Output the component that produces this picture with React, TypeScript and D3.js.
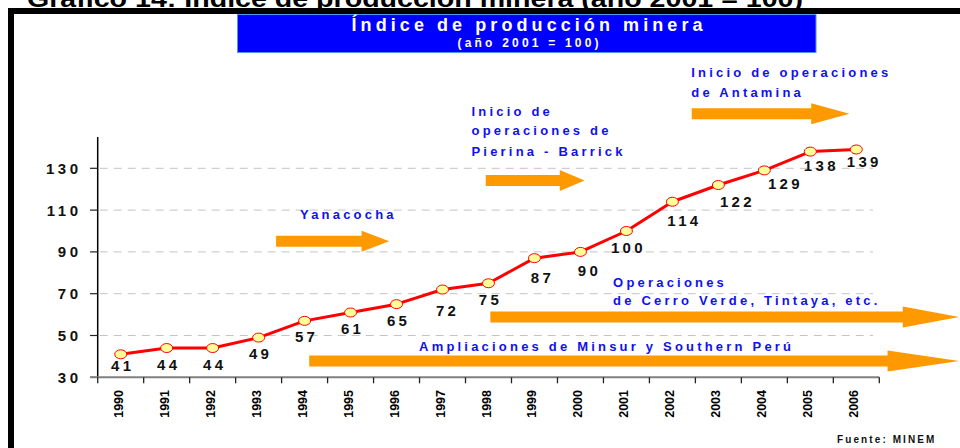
import * as d3 from "d3";

// data
const years = [1990, 1991, 1992, 1993, 1994, 1995, 1996, 1997, 1998, 1999, 2000, 2001, 2002, 2003, 2004, 2005, 2006];
const values = [41, 44, 44, 49, 57, 61, 65, 72, 75, 87, 90, 100, 114, 122, 129, 138, 139];
const yTicks = [30, 50, 70, 90, 110, 130];
const gridTicks = [50, 70, 90, 110, 130];

// annotation arrows, in (fractional year, index value)
const arrows = [
  { from: 1993.38, head: 1995.24, to: 1995.84, at: 95.1 },
  { from: 1997.94, head: 1999.55, to: 2000.09, at: 124.2 },
  { from: 2002.42, head: 2005.02, to: 2005.85, at: 156.1 },
  { from: 1998.04, head: 2007.01, to: 2008.24, at: 58.85 },
  { from: 1994.1, head: 2006.68, to: 2008.24, at: 37.8 },
];

// annotation text lines, anchored at (fractional year, index value)
const notes = [
  { text: "Yanacocha", year: 1993.9, at: 105.7 },
  { text: "Inicio de", year: 1997.63, at: 155.2 },
  { text: "operaciones de", year: 1997.63, at: 145.7 },
  { text: "Pierina - Barrick", year: 1997.63, at: 135.9 },
  { text: "Inicio de operaciones", year: 2002.41, at: 173.8 },
  { text: "de Antamina", year: 2002.41, at: 164.3 },
  { text: "Operaciones", year: 2000.71, at: 73.1 },
  { text: "de Cerro Verde, Tintaya, etc.", year: 2000.71, at: 64.6 },
  { text: "Ampliaciones de Minsur y Southern Perú", year: 1996.49, at: 42.6 },
];

// value labels sit under the points, a few are pushed aside
const labelNudge: Record<number, [number, number]> = {
  1990: [2, 17],
  1997: [5, 26],
  1999: [8, 25],
  2000: [9, 24],
  2002: [12, 24],
  2003: [19, 22],
  2004: [21, 19],
  2005: [11, 19],
  2006: [8, 17.5],
};

export default function App() {
  const width = 960;
  const height = 448;
  const left = 97.7;
  const right = 879.3;
  const top = 137;
  const bottom = 377.3;

  const x = d3.scaleBand<number>().domain(years).range([left, right]).padding(0);
  const xYear = d3.scaleLinear().domain([1989.5, 2006.5]).range([left, right]);
  const y = d3.scaleLinear().domain([30, 130]).range([bottom, 168.3]);

  const pts = years.map((yr, i) => ({ yr, v: values[i], px: x(yr)! + x.bandwidth() / 2, py: y(values[i]) }));

  const line = d3
    .line<{ px: number; py: number }>()
    .x((d) => d.px)
    .y((d) => d.py);

  const font = "Liberation Sans, Arial, Helvetica, sans-serif";
  const blue = "#1010f0";
  const orange = "#ff9900";

  const arrowPath = (a: typeof arrows[0]) => {
    const x0 = xYear(a.from);
    const xh = xYear(a.head);
    const x1 = xYear(a.to);
    const c = y(a.at);
    const bh = 5.5;
    const hh = 10.5;
    return `M${x0},${c - bh}L${xh},${c - bh}L${xh},${c - hh}L${x1},${c}L${xh},${c + hh}L${xh},${c + bh}L${x0},${c + bh}Z`;
  };

  return (
    <svg
      width={width}
      height={height}
      style={{ position: "absolute", left: 0, top: 0, background: "#fff" }}
      fontFamily={font}
    >
      {/* page heading, mostly cut off by the frame */}
      <text x={27} y={7} fontSize={23} fontWeight="bold" fill="#000" textLength={776} lengthAdjust="spacingAndGlyphs">
        Gráfico 14: Índice de producción minera (año 2001 = 100)
      </text>

      {/* frame */}
      <rect x={8} y={8} width={width - 8} height={6} fill="#000" />
      <rect x={8} y={8} width={6} height={height - 8} fill="#000" />

      {/* title box */}
      <rect x={237.5} y={14.5} width={578.5} height={38} fill="#0000ff" stroke="#4d94ff" strokeWidth={1} />
      <text x={527} y={31} textAnchor="middle" fontSize={18} fontWeight="bold" fill="#fff" textLength={351} lengthAdjust="spacing">
        Índice de producción minera
      </text>
      <text x={528} y={46.5} textAnchor="middle" fontSize={12} fontWeight="bold" fill="#fff" textLength={141} lengthAdjust="spacing">
        (año 2001 = 100)
      </text>

      {/* grid */}
      {gridTicks.map((t) => (
        <line key={t} x1={left + 2} x2={873} y1={y(t)} y2={y(t)} stroke="#c4c4c4" strokeWidth={1} strokeDasharray="8 6" />
      ))}

      {/* arrows */}
      {arrows.map((a, i) => (
        <path key={i} d={arrowPath(a)} fill={orange} />
      ))}

      {/* y axis */}
      <line x1={left} x2={left} y1={top} y2={bottom} stroke="#000" strokeWidth={1.5} />
      {yTicks.map((t) => (
        <g key={t}>
          <line x1={90} x2={left} y1={y(t)} y2={y(t)} stroke="#222" strokeWidth={1.2} />
          <text x={81.5} y={y(t) + 5.5} textAnchor="end" fontSize={15} fontWeight="bold" letterSpacing={3.5} fill="#111">
            {t}
          </text>
        </g>
      ))}

      {/* x axis */}
      <line x1={90} x2={right} y1={bottom} y2={bottom} stroke="#808080" strokeWidth={2} />
      {[...years.map((yr) => x(yr)!), right].map((tx, i) => (
        <line key={i} x1={tx} x2={tx} y1={bottom} y2={bottom + 6} stroke="#222" strokeWidth={1.3} />
      ))}
      {years.map((yr) => {
        const cx = x(yr)! + x.bandwidth() / 2;
        return (
          <text
            key={yr}
            transform={`translate(${cx + 2},390) rotate(-90)`}
            textAnchor="end"
            fontSize={12.5}
            fontWeight="bold"
            fill="#000"
          >
            {yr}
          </text>
        );
      })}

      {/* series */}
      <path d={line(pts)!} fill="none" stroke="#ff0000" strokeWidth={3} strokeLinejoin="round" />
      {pts.map((d) => (
        <ellipse key={d.yr} cx={d.px} cy={d.py} rx={6} ry={4.5} fill="#ffff99" stroke="#ff0000" strokeWidth={1} />
      ))}
      {pts.map((d) => {
        const [dx, dy] = labelNudge[d.yr] ?? [2, 21.5];
        return (
          <text
            key={d.yr}
            x={d.px + dx}
            y={d.py + dy}
            textAnchor="middle"
            fontSize={15}
            fontWeight="bold"
            letterSpacing={3.3}
            fill="#111"
          >
            {d.v}
          </text>
        );
      })}

      {/* annotations */}
      {notes.map((n, i) => (
        <text key={i} x={xYear(n.year)} y={y(n.at)} fontSize={13} fontWeight="bold" letterSpacing={3.2} fill={blue}>
          {n.text}
        </text>
      ))}

      <text x={837} y={443} fontSize={10} fontWeight="bold" letterSpacing={2.1} fill="#111">
        Fuente: MINEM
      </text>
    </svg>
  );
}
